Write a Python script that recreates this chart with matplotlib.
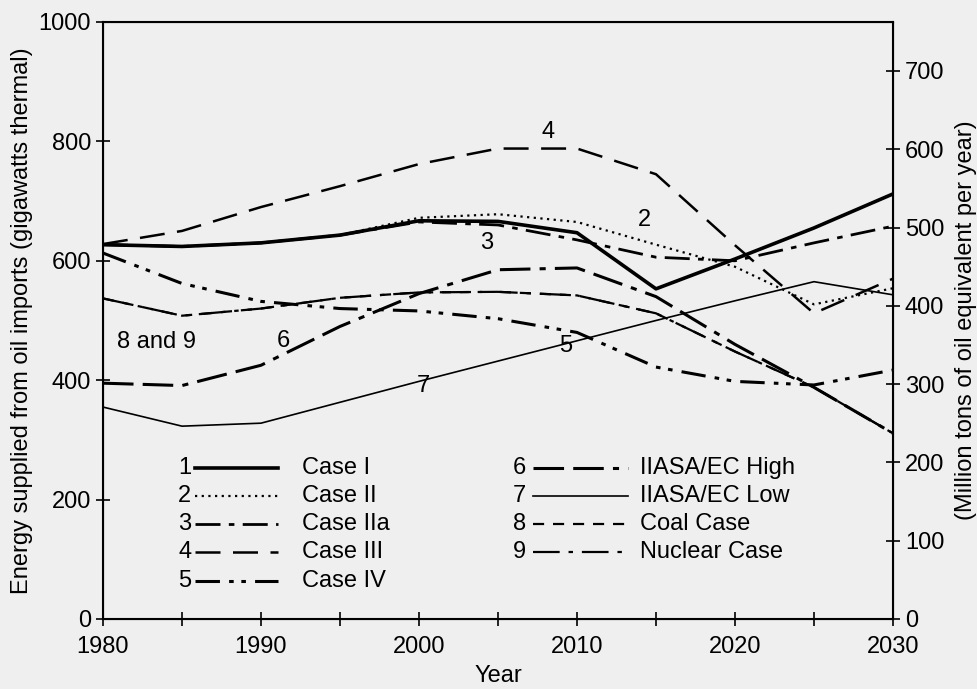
import matplotlib.pyplot as plt

# data (GW thermal, 5-year steps)
years = [1980, 1985, 1990, 1995, 2000, 2005, 2010, 2015, 2020, 2025, 2030]
case_1 = [627, 624, 630, 643, 667, 666, 647, 553, 603, 655, 712]
case_2 = [627, 624, 630, 643, 672, 678, 665, 627, 590, 527, 554]
case_2a = [627, 624, 630, 643, 665, 660, 635, 606, 600, 630, 658]
case_3 = [628, 650, 690, 725, 762, 788, 788, 745, 626, 512, 570]
case_4 = [613, 562, 532, 520, 516, 503, 480, 422, 398, 392, 417]
iiasa_high = [395, 391, 425, 490, 545, 585, 588, 540, 460, 388, 311]
iiasa_low = [355, 323, 328, 363, 398, 432, 466, 500, 533, 565, 543]
coal = [537, 508, 520, 538, 547, 548, 542, 512, 448, 388, 311]
nuclear = [537, 508, 520, 538, 547, 548, 542, 512, 448, 388, 311]

names = ['Case I', 'Case II', 'Case IIa', 'Case III', 'Case IV',
         'IIASA/EC High', 'IIASA/EC Low', 'Coal Case', 'Nuclear Case']
series = [case_1, case_2, case_2a, case_3, case_4, iiasa_high, iiasa_low, coal, nuclear]
styles = [
    dict(ls='-', lw=2.6),
    dict(ls=(0, (1, 2)), lw=1.6),
    dict(ls=(0, (9, 3, 2, 3)), lw=2.0),
    dict(ls=(0, (10, 5)), lw=1.8),
    dict(ls=(0, (8, 3, 1.5, 2.5, 1.5, 3)), lw=2.2),
    dict(ls=(0, (10, 3, 10, 3, 2, 3)), lw=2.2),
    dict(ls='-', lw=1.2),
    dict(ls=(0, (5, 4)), lw=1.6),
    dict(ls=(0, (12, 4, 2, 4)), lw=1.6),
]

# curve labels: (text, year, GW)
curve_labels = [('4', 2008.2, 815), ('2', 2014.3, 668), ('3', 2004.3, 630),
                ('8 and 9', 1983.4, 464), ('6', 1991.4, 465), ('7', 2000.3, 390),
                ('5', 2009.3, 458)]

plt.rcParams['font.family'] = ['Liberation Sans', 'DejaVu Sans']
bg = '#efefef'
fs = 17

fig = plt.figure(figsize=(9.77, 6.89), dpi=100, facecolor=bg)
ax = fig.add_axes([0.1054, 0.1016, 0.8086, 0.8665], facecolor=bg)

for vals, st in zip(series, styles):
    ax.plot(years, vals, color='black', dash_capstyle='butt', **st)

for txt, x, y in curve_labels:
    ax.text(x, y, txt, fontsize=fs, ha='center', va='center')

# legend: number, line sample, name
rows = [0.253, 0.206, 0.159, 0.112, 0.064]
cols = [(0.112, 0.116, 0.222, 0.252), (0.536, 0.544, 0.665, 0.680)]
for i, (name, st) in enumerate(zip(names, styles)):
    c = cols[0] if i < 5 else cols[1]
    yy = rows[i] if i < 5 else rows[i - 5]
    ax.text(c[0], yy, str(i + 1), transform=ax.transAxes, fontsize=fs,
            ha='right', va='center')
    ax.plot([c[1], c[2]], [yy, yy], transform=ax.transAxes, color='black',
            clip_on=False, **st)
    ax.text(c[3], yy, name, transform=ax.transAxes, fontsize=fs,
            ha='left', va='center')

ax.set_xlim(1980, 2030)
ax.set_ylim(0, 1000)
ax.set_xticks(range(1980, 2031, 5))
ax.set_xticklabels(['1980', '', '1990', '', '2000', '', '2010', '', '2020', '', '2030'])
ax.set_yticks(range(0, 1001, 200))
ax.tick_params(direction='inout', length=10, width=1.2, labelsize=fs)
ax.tick_params(axis='x', pad=7)
for s in ax.spines.values():
    s.set_linewidth(1.5)

ax.set_xlabel('Year', fontsize=fs, labelpad=5)
ax.set_ylabel('Energy supplied from oil imports (gigawatts thermal)', fontsize=fs, labelpad=4)

ax2 = ax.twinx()
ax2.set_ylim(0, 762.5)
ax2.set_yticks(range(0, 701, 100))
ax2.tick_params(direction='inout', length=10, width=1.2, labelsize=fs)
ax2.set_ylabel('(Million tons of oil equivalent per year)', fontsize=fs, labelpad=8)

fig.savefig('out.png', dpi=100, facecolor=bg)
